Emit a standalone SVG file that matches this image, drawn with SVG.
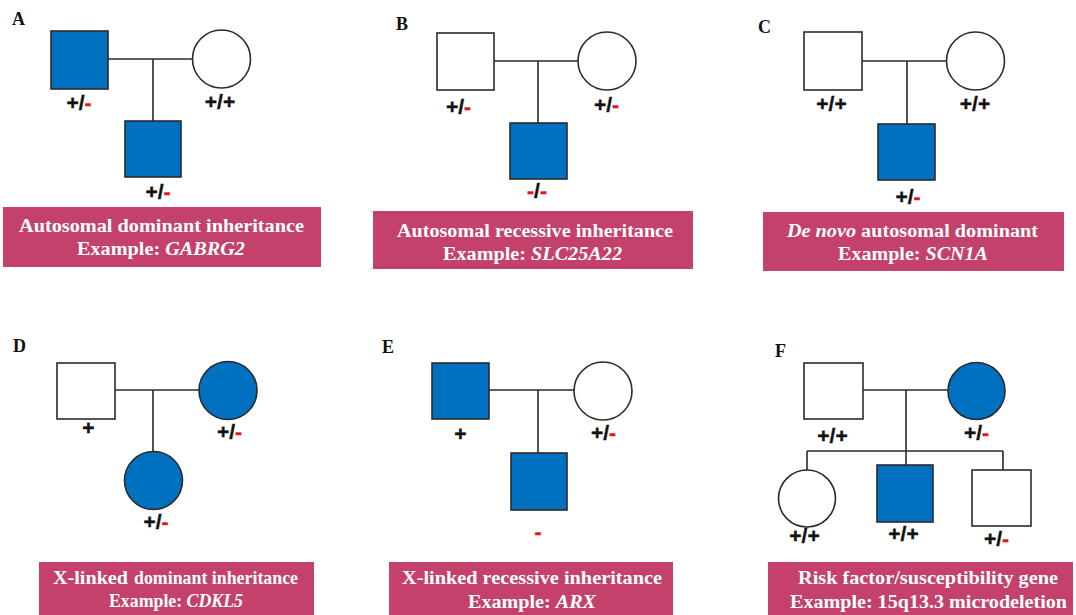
<svg xmlns="http://www.w3.org/2000/svg" width="1076" height="615" viewBox="0 0 1076 615">
<style>
.bg{fill:#ffffff}
.sq,.ci{stroke:#2b2b2b;stroke-width:1.6}
.aff{fill:#0070c0}
.un{fill:#ffffff}
.ln{stroke:#2b2b2b;stroke-width:1.6;fill:none}
.lab{font-family:"Liberation Serif","Times New Roman",serif;font-weight:bold;font-size:18px;fill:#111}
.gt{font-family:"Liberation Sans",Arial,sans-serif;font-weight:bold;font-size:21px;fill:#111;text-anchor:middle;stroke:#111;stroke-width:0.4}
.r{fill:#e8141b;stroke:#e8141b}
.ban{fill:#c4416b}
.bt{font-family:"Liberation Serif","Times New Roman",serif;font-weight:bold;font-size:19px;fill:#ffffff}
.it{font-style:italic}
</style>
<rect class="bg" x="0" y="0" width="1076" height="615"/>

<g id="connectors">
  <path class="ln" d="M108 59H192M153 59V121"/>
  <path class="ln" d="M494 61H578M538 61V123"/>
  <path class="ln" d="M862 61H946M907 61V124"/>
  <path class="ln" d="M115 390H199M153 390V452"/>
  <path class="ln" d="M489 390H574M538 390V453"/>
  <path class="ln" d="M863 390H948M906 390V465M807 451H1003M807 451V470M1003 451V470"/>
</g>

<g id="panelA">
  <text class="lab" x="12" y="25">A</text>
  <g id="A-father"><rect class="sq aff" x="51" y="31" width="57" height="58"/><text class="gt" x="79" y="110">+/<tspan class="r">-</tspan></text></g>
  <g id="A-mother"><circle class="ci un" cx="221.5" cy="59" r="29"/><text class="gt" x="220" y="109">+/+</text></g>
  <g id="A-child"><rect class="sq aff" x="125" y="121" width="56" height="56"/><text class="gt" x="158" y="199">+/<tspan class="r">-</tspan></text></g>
  <g id="A-banner"><rect class="ban" x="3" y="207" width="318" height="60"/>
    <text class="bt" x="19" y="232" textLength="285" lengthAdjust="spacingAndGlyphs">Autosomal dominant inheritance</text>
    <text class="bt" x="77" y="255" textLength="168" lengthAdjust="spacingAndGlyphs">Example: <tspan class="it">GABRG2</tspan></text></g>
</g>

<g id="panelB">
  <text class="lab" x="396" y="30">B</text>
  <g id="B-father"><rect class="sq un" x="437" y="33" width="57" height="57"/><text class="gt" x="458.5" y="114">+/<tspan class="r">-</tspan></text></g>
  <g id="B-mother"><circle class="ci un" cx="607" cy="61" r="29"/><text class="gt" x="606.5" y="112">+/<tspan class="r">-</tspan></text></g>
  <g id="B-child"><rect class="sq aff" x="510" y="123" width="57" height="56"/><text class="gt" x="537" y="198"><tspan class="r">-</tspan>/<tspan class="r">-</tspan></text></g>
  <g id="B-banner"><rect class="ban" x="373" y="211" width="320" height="58"/>
    <text class="bt" x="397" y="237" textLength="276" lengthAdjust="spacingAndGlyphs">Autosomal recessive inheritance</text>
    <text class="bt" x="443" y="260" textLength="179" lengthAdjust="spacingAndGlyphs">Example: <tspan class="it">SLC25A22</tspan></text></g>
</g>

<g id="panelC">
  <text class="lab" x="758" y="33">C</text>
  <g id="C-father"><rect class="sq un" x="804" y="32" width="58" height="58"/><text class="gt" x="831.5" y="111">+/+</text></g>
  <g id="C-mother"><circle class="ci un" cx="975.5" cy="61" r="29"/><text class="gt" x="975" y="111">+/+</text></g>
  <g id="C-child"><rect class="sq aff" x="878" y="124" width="57" height="56"/><text class="gt" x="908" y="204">+/<tspan class="r">-</tspan></text></g>
  <g id="C-banner"><rect class="ban" x="763" y="212" width="301" height="59"/>
    <text class="bt" x="787" y="237" textLength="251" lengthAdjust="spacingAndGlyphs"><tspan class="it">De novo</tspan> autosomal dominant</text>
    <text class="bt" x="838" y="260" textLength="150" lengthAdjust="spacingAndGlyphs">Example: <tspan class="it">SCN1A</tspan></text></g>
</g>

<g id="panelD">
  <text class="lab" x="13" y="352">D</text>
  <g id="D-father"><rect class="sq un" x="57" y="363" width="58" height="56"/><text class="gt" x="88.5" y="435">+</text></g>
  <g id="D-mother"><circle class="ci aff" cx="228" cy="390.5" r="29"/><text class="gt" x="229.5" y="439">+/<tspan class="r">-</tspan></text></g>
  <g id="D-child"><circle class="ci aff" cx="153.5" cy="480.5" r="29"/><text class="gt" x="156" y="529">+/<tspan class="r">-</tspan></text></g>
  <g id="D-banner"><rect class="ban" x="39" y="562" width="275" height="53"/>
    <text class="bt" x="53" y="584" font-size="20" textLength="75" lengthAdjust="spacingAndGlyphs">X-linked</text>
    <text class="bt" x="134" y="584" font-size="16" textLength="164" lengthAdjust="spacingAndGlyphs">dominant inheritance</text>
    <text class="bt" x="109" y="607" font-size="16" textLength="134" lengthAdjust="spacingAndGlyphs">Example: <tspan class="it">CDKL5</tspan></text></g>
</g>

<g id="panelE">
  <text class="lab" x="382" y="353">E</text>
  <g id="E-father"><rect class="sq aff" x="432" y="363" width="57" height="56"/><text class="gt" x="460.5" y="441">+</text></g>
  <g id="E-mother"><circle class="ci un" cx="603" cy="391" r="29"/><text class="gt" x="603.5" y="440">+/<tspan class="r">-</tspan></text></g>
  <g id="E-child"><rect class="sq aff" x="511" y="453" width="56" height="57"/><text class="gt r" x="538" y="539">-</text></g>
  <g id="E-banner"><rect class="ban" x="389" y="562" width="284" height="53"/>
    <text class="bt" x="402" y="584" textLength="260" lengthAdjust="spacingAndGlyphs">X-linked recessive inheritance</text>
    <text class="bt" x="468" y="608" textLength="128" lengthAdjust="spacingAndGlyphs">Example: <tspan class="it">ARX</tspan></text></g>
</g>

<g id="panelF">
  <text class="lab" x="775" y="357">F</text>
  <g id="F-father"><rect class="sq un" x="804" y="363" width="59" height="56"/><text class="gt" x="832.5" y="443">+/+</text></g>
  <g id="F-mother"><circle class="ci aff" cx="976.5" cy="391" r="28.5"/><text class="gt" x="976.5" y="440">+/<tspan class="r">-</tspan></text></g>
  <g id="F-child1"><circle class="ci un" cx="807" cy="498.5" r="28.5"/><text class="gt" x="804.5" y="543">+/+</text></g>
  <g id="F-child2"><rect class="sq aff" x="877" y="465" width="56" height="57"/><text class="gt" x="903.5" y="541">+/+</text></g>
  <g id="F-child3"><rect class="sq un" x="972" y="470" width="59" height="56"/><text class="gt" x="996.5" y="546">+/<tspan class="r">-</tspan></text></g>
  <g id="F-banner"><rect class="ban" x="768" y="562" width="305" height="53"/>
    <text class="bt" x="798" y="584" textLength="260" lengthAdjust="spacingAndGlyphs">Risk factor/susceptibility gene</text>
    <text class="bt" x="790" y="608" textLength="277" lengthAdjust="spacingAndGlyphs">Example: 15q13.3 microdeletion</text></g>
</g>
</svg>
